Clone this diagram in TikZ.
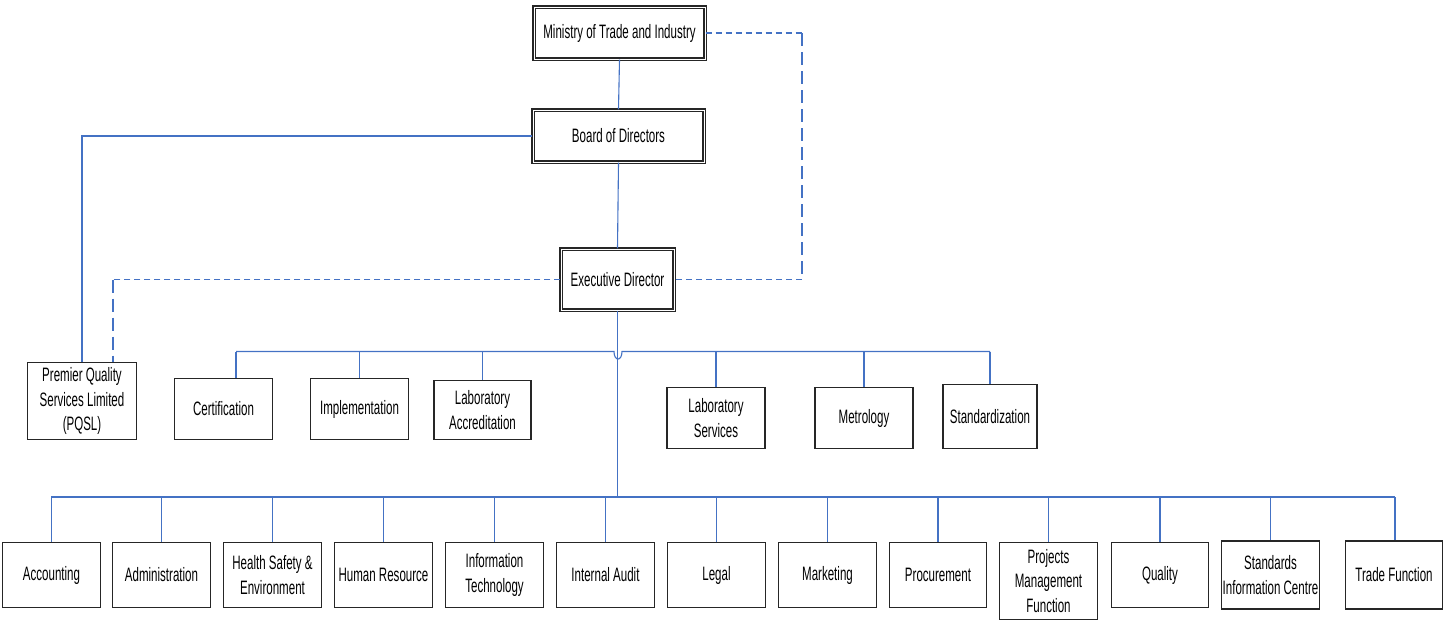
\documentclass[tikz,border=0pt]{standalone}
\usepackage{fontspec}
\setmainfont{Liberation Sans}[FakeStretch=0.595]
\definecolor{linkblue}{RGB}{68,114,196}
\begin{document}
\begin{tikzpicture}[x=1pt,y=-1pt,
  unit/.style={draw=black!85, line width=1.4pt, fill=white, align=center,
    inner sep=0pt, font=\fontsize{19.4}{24.5}\selectfont},
  topunit/.style={unit, double=white, double distance=1pt, line width=1.3pt},
  link/.style={draw=linkblue, line width=1.1pt},
  dashH/.style={link, dash pattern=on 6pt off 4pt},
  dashV/.style={link, dash pattern=on 13pt off 6pt}]
\useasboundingbox (0,0) rectangle (1444,621);

% governance chain
\node[topunit, minimum width=171, minimum height=52] (min) at (619.5,33) {Ministry of Trade and Industry};
\node[topunit, minimum width=171, minimum height=52] (board) at (618.5,136) {Board of Directors};
\node[topunit, minimum width=113, minimum height=61] (ed) at (617.5,279.5) {Executive Director};

% subsidiary
\node[unit, minimum width=109, minimum height=77] (pqsl) at (82,401) {Premier Quality\\Services Limited\\(PQSL)};

% technical units
\node[unit, minimum width=98, minimum height=61] (cert) at (223.5,409) {Certification};
\node[unit, minimum width=98, minimum height=61] (impl) at (359.5,409) {Implementation};
\node[unit, minimum width=97, minimum height=59] (labacc) at (482.5,410) {Laboratory\\Accreditation};
\node[unit, minimum width=98, minimum height=61] (labsrv) at (716,418) {Laboratory\\Services};
\node[unit, minimum width=98, minimum height=61] (metro) at (864,418) {Metrology};
\node[unit, minimum width=94, minimum height=64] (std) at (990,416.5) {Standardization};

% support functions
\node[unit, minimum width=98, minimum height=65] (acc) at (51.5,575) {Accounting};
\node[unit, minimum width=98, minimum height=65] (adm) at (161.5,575) {Administration};
\node[unit, minimum width=98, minimum height=65] (hse) at (272.5,575) {Health Safety \&\\Environment};
\node[unit, minimum width=98, minimum height=65] (hr) at (383.5,575) {Human Resource};
\node[unit, minimum width=98, minimum height=65] (it) at (494.5,575) {Information\\Technology};
\node[unit, minimum width=98, minimum height=65] (audit) at (605.5,575) {Internal Audit};
\node[unit, minimum width=98, minimum height=65] (legal) at (716.5,575) {Legal};
\node[unit, minimum width=98, minimum height=65] (mkt) at (827.5,575) {Marketing};
\node[unit, minimum width=97, minimum height=65] (proc) at (938,575) {Procurement};
\node[unit, minimum width=98, minimum height=77] (pmf) at (1048.5,581) {Projects\\Management\\Function};
\node[unit, minimum width=97, minimum height=65] (qual) at (1160,575) {Quality};
\node[unit, minimum width=98, minimum height=68] (sic) at (1270.5,575) {Standards\\Information Centre};
\node[unit, minimum width=97, minimum height=68] (trade) at (1394,575) {Trade Function};

% bus and bend coordinates
\coordinate (mbL) at (236,351.5);
\coordinate (mbR) at (990,351.5);
\coordinate (hopA) at (614,351.5);
\coordinate (hopB) at (622,351.5);
\coordinate (busL) at (51,497);
\coordinate (busR) at (1395,497);
\coordinate (dR) at (802,33);
\coordinate (dL) at (113,280);

% solid reporting lines
\draw[link] (min.south) -- (board.north);
\draw[link] (board.south) -- (ed.north);
\draw[link] (board.west) -| (pqsl.north);
\draw[link] (ed.south) -- (ed.south |- busL);

% technical bus with a hop over the main trunk
\draw[link] (mbL) -- (hopA) .. controls ([yshift=-10]hopA) and ([yshift=-10]hopB) .. (hopB) -- (mbR);
\draw[link] (mbL) -- (mbL |- cert.north);
\foreach \n in {impl,labacc,labsrv,metro}
  \draw[link] (\n.north |- mbL) -- (\n.north);
\draw[link] (mbR) -- (mbR |- std.north);

% support bus
\draw[link] (busL) -- (busR);
\foreach \n in {acc,adm,hse,hr,it,audit,legal,mkt,proc,pmf,qual,sic}
  \draw[link] (\n.north |- busL) -- (\n.north);
\draw[link] (busR) -- (busR |- trade.north);

% dotted-line relationships
\draw[dashH] (min.east) -- (dR);
\draw[dashV] (dR) -- (dR |- ed.east);
\draw[dashH] (dR |- ed.east) -- (ed.east);
\draw[dashH] (ed.west) -- (ed.west -| dL);
\draw[dashV] (ed.west -| dL) -- (dL |- pqsl.north);
\end{tikzpicture}
\end{document}
